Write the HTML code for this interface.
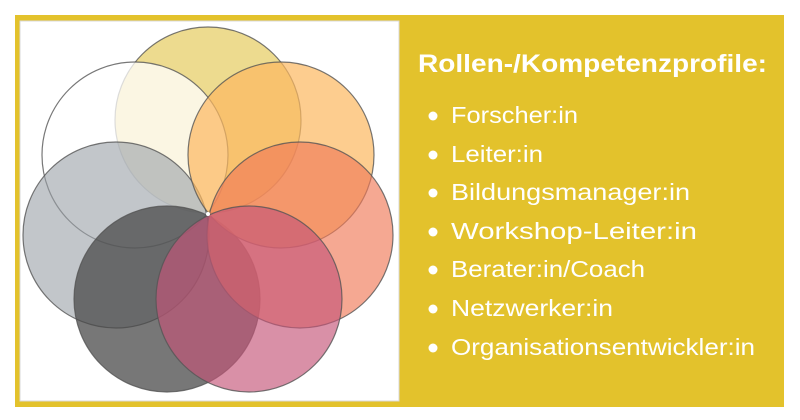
<!DOCTYPE html>
<html><head><meta charset="utf-8"><style>
html,body{margin:0;padding:0;background:#fff;}
svg{display:block;}
</style></head><body>
<svg width="800" height="420" viewBox="0 0 800 420" xmlns="http://www.w3.org/2000/svg">
<rect x="0" y="0" width="800" height="420" fill="#fff"/>
<rect x="15" y="15" width="769" height="392" fill="#e3c22c"/>
<rect x="20" y="21" width="379" height="380" fill="#fff" stroke="#d8d8d8" stroke-width="1"/>
<g stroke="#555" stroke-width="1.2" stroke-opacity="0.8">
<circle cx="208" cy="120" r="93" fill="#e6cc60" fill-opacity="0.7"/>
<circle cx="135" cy="155" r="93" fill="#fff" fill-opacity="0.75"/>
<circle cx="116" cy="235" r="93" fill="#9aa0a6" fill-opacity="0.6"/>
<circle cx="167" cy="299" r="93" fill="#4a4a4a" fill-opacity="0.75"/>
<circle cx="281" cy="155" r="93" fill="#fcb860" fill-opacity="0.7"/>
<circle cx="300" cy="235" r="93" fill="#ef7a58" fill-opacity="0.65"/>
<circle cx="249" cy="299" r="93" fill="#c55478" fill-opacity="0.65"/>
</g>
<circle cx="208" cy="214" r="2" fill="#fff"/>
<g fill="#fff" font-family="Liberation Sans, sans-serif">
<text x="418" y="72" font-size="25" font-weight="bold" textLength="349" lengthAdjust="spacingAndGlyphs">Rollen-/Kompetenzprofile:</text>
<g font-size="23">
<circle cx="433" cy="116" r="4.5"/><text x="451" y="123" textLength="127" lengthAdjust="spacingAndGlyphs">Forscher:in</text>
<circle cx="433" cy="155" r="4.5"/><text x="451" y="162" textLength="92" lengthAdjust="spacingAndGlyphs">Leiter:in</text>
<circle cx="433" cy="193" r="4.5"/><text x="451" y="200" textLength="239" lengthAdjust="spacingAndGlyphs">Bildungsmanager:in</text>
<circle cx="433" cy="232" r="4.5"/><text x="451" y="239" textLength="246" lengthAdjust="spacingAndGlyphs">Workshop-Leiter:in</text>
<circle cx="433" cy="270" r="4.5"/><text x="451" y="277" textLength="194" lengthAdjust="spacingAndGlyphs">Berater:in/Coach</text>
<circle cx="433" cy="309" r="4.5"/><text x="451" y="316" textLength="162" lengthAdjust="spacingAndGlyphs">Netzwerker:in</text>
<circle cx="433" cy="348" r="4.5"/><text x="451" y="355" textLength="304" lengthAdjust="spacingAndGlyphs">Organisationsentwickler:in</text>
</g>
</g>
</svg>
</body></html>
